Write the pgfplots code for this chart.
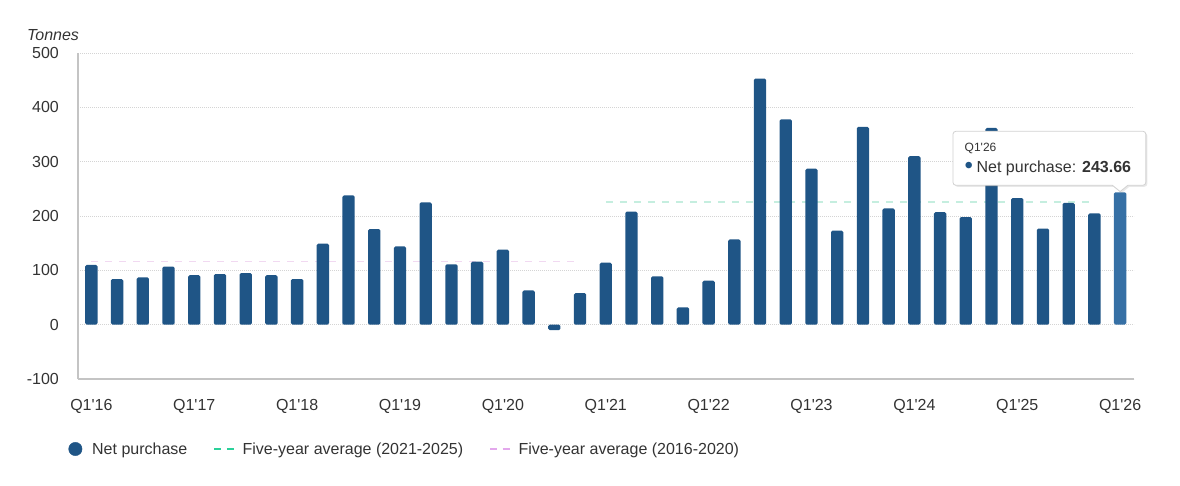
\documentclass[border=0pt]{standalone}
\usepackage{pgfplots}
\pgfplotsset{compat=1.18}
\usepackage{fontspec}
\setmainfont{Liberation Sans}
\usetikzlibrary{shadows}
\definecolor{barc}{HTML}{1F5586}
\definecolor{lastc}{HTML}{3670A5}
\definecolor{gline}{HTML}{C5EEDF}
\definecolor{gleg}{HTML}{2BD19A}
\definecolor{pline}{HTML}{F1D9F1}
\definecolor{pleg}{HTML}{E3A8EC}
\definecolor{txt}{HTML}{333333}
\definecolor{gridc}{HTML}{D4D4D4}
\definecolor{axc}{HTML}{C4C4C4}
\newcommand\q{\textquotesingle}
\begin{document}
\begin{tikzpicture}[x=1pt,y=1pt]
\path[use as bounding box] (0,0) rectangle (1180,485);
\node[font=\fontsize{16}{19}\selectfont\itshape, text=txt, inner sep=0pt] at (53,450) {Tonnes};
\begin{axis}[
  at={(78pt,106pt)}, anchor=south west,
  scale only axis, width=1056pt, height=326pt,
  xmin=-0.52, xmax=40.54, ymin=-100, ymax=500,
  clip=false,
  axis x line*=bottom, axis y line*=left,
  x axis line style={draw=axc, line width=2pt, -},
  y axis line style={draw=axc, line width=1.2pt, -},
  major tick length=0pt,
  xtick={0,4,...,40},
  xticklabels={Q1\q16,Q1\q17,Q1\q18,Q1\q19,Q1\q20,Q1\q21,Q1\q22,Q1\q23,Q1\q24,Q1\q25,Q1\q26},
  ytick={-100,0,100,200,300,400,500},
  yticklabels={-100,0,100,200,300,400,500},
  ticklabel style={font=\fontsize{16}{19}\selectfont, text=txt, inner sep=0pt},
  xticklabel style={anchor=north, yshift=-20pt},
  yticklabel style={anchor=east, xshift=-19pt},
  ymajorgrids,
  grid style={draw=gridc, line width=0.8pt, dash pattern=on 1pt off 1pt},
  legend columns=3,
  legend style={at={(-0.0092,-0.2147)}, anchor=west, draw=none, fill=none,
    inner sep=0pt, font=\fontsize{16}{19}\selectfont, text=txt,
    /tikz/every even column/.append style={column sep=24pt}},
  legend cell align=left,
]
\addlegendimage{legend image code/.code={\fill[barc] (6.7pt,0) circle (6.7pt); \path[draw=none] (0,0) -- (21.5pt,0);}}
\addlegendentry{Net purchase}
\addlegendimage{legend image code/.code={\draw[gleg, line width=1.6pt, dash pattern=on 7pt off 5.7pt] (0,0) -- (19.7pt,0); \path[draw=none] (0,0) -- (26.5pt,0);}}
\addlegendentry{Five-year average (2021-2025)}
\addlegendimage{legend image code/.code={\draw[pleg, line width=1.6pt, dash pattern=on 7pt off 5.7pt] (0,0) -- (19.7pt,0); \path[draw=none] (0,0) -- (26.5pt,0);}}
\addlegendentry{Five-year average (2016-2020)}

\addplot[forget plot, pline, line width=1.6pt, dash pattern=on 7pt off 7pt] coordinates {(0,116) (19,116)};
\addplot[forget plot, gline, line width=1.6pt, dash pattern=on 7pt off 7pt] coordinates {(20,226) (39,226)};

\addplot[forget plot, ybar, bar width=0.48, bar shift=0pt, fill=barc, draw=none, rounded corners=1.5pt] coordinates {
(0,110) (1,84) (2,87) (3,107) (4,91) (5,93) (6,95) (7,91) (8,84) (9,149)
(10,238) (11,176) (12,144) (13,225) (14,111) (15,116) (16,138) (17,63) (18,-10) (19,58)
(20,114) (21,208) (22,89) (23,32) (24,81) (25,157) (26,453) (27,378) (28,287) (29,173)
(30,364) (31,214) (32,310) (33,207) (34,198) (35,362) (36,233) (37,177) (38,224) (39,205)
};
\addplot[forget plot, ybar, bar width=0.48, bar shift=0pt, fill=lastc, draw=none, rounded corners=1.5pt] coordinates {(40,243.66)};

% tooltip
\draw[fill=white, draw=black!18, line width=0.8pt, rounded corners=3pt,
  drop shadow={opacity=0.18, shadow xshift=1.5pt, shadow yshift=-1.5pt}]
  (axis cs:33.5,356) -- (axis cs:41.0,356) -- (axis cs:41.0,256.5)
  [sharp corners] -- (axis cs:40.3,256.5) -- (axis cs:40.0,245) -- (axis cs:39.7,256.5)
  [rounded corners=3pt] -- (axis cs:33.5,256.5) -- cycle;
\node[anchor=west, inner sep=0pt, text=txt, font=\fontsize{12}{14}\selectfont] at (axis cs:33.95,324) {Q1\q26};
\node[anchor=west, inner sep=0pt, text=txt, font=\fontsize{16}{19}\selectfont] at (axis cs:33.95,288) {{\color{barc}\raisebox{-1.2pt}{\fontsize{24}{24}\selectfont\textbullet}}\hspace{3.5pt}Net purchase: \textbf{243.66}};
\end{axis}
\end{tikzpicture}
\end{document}
